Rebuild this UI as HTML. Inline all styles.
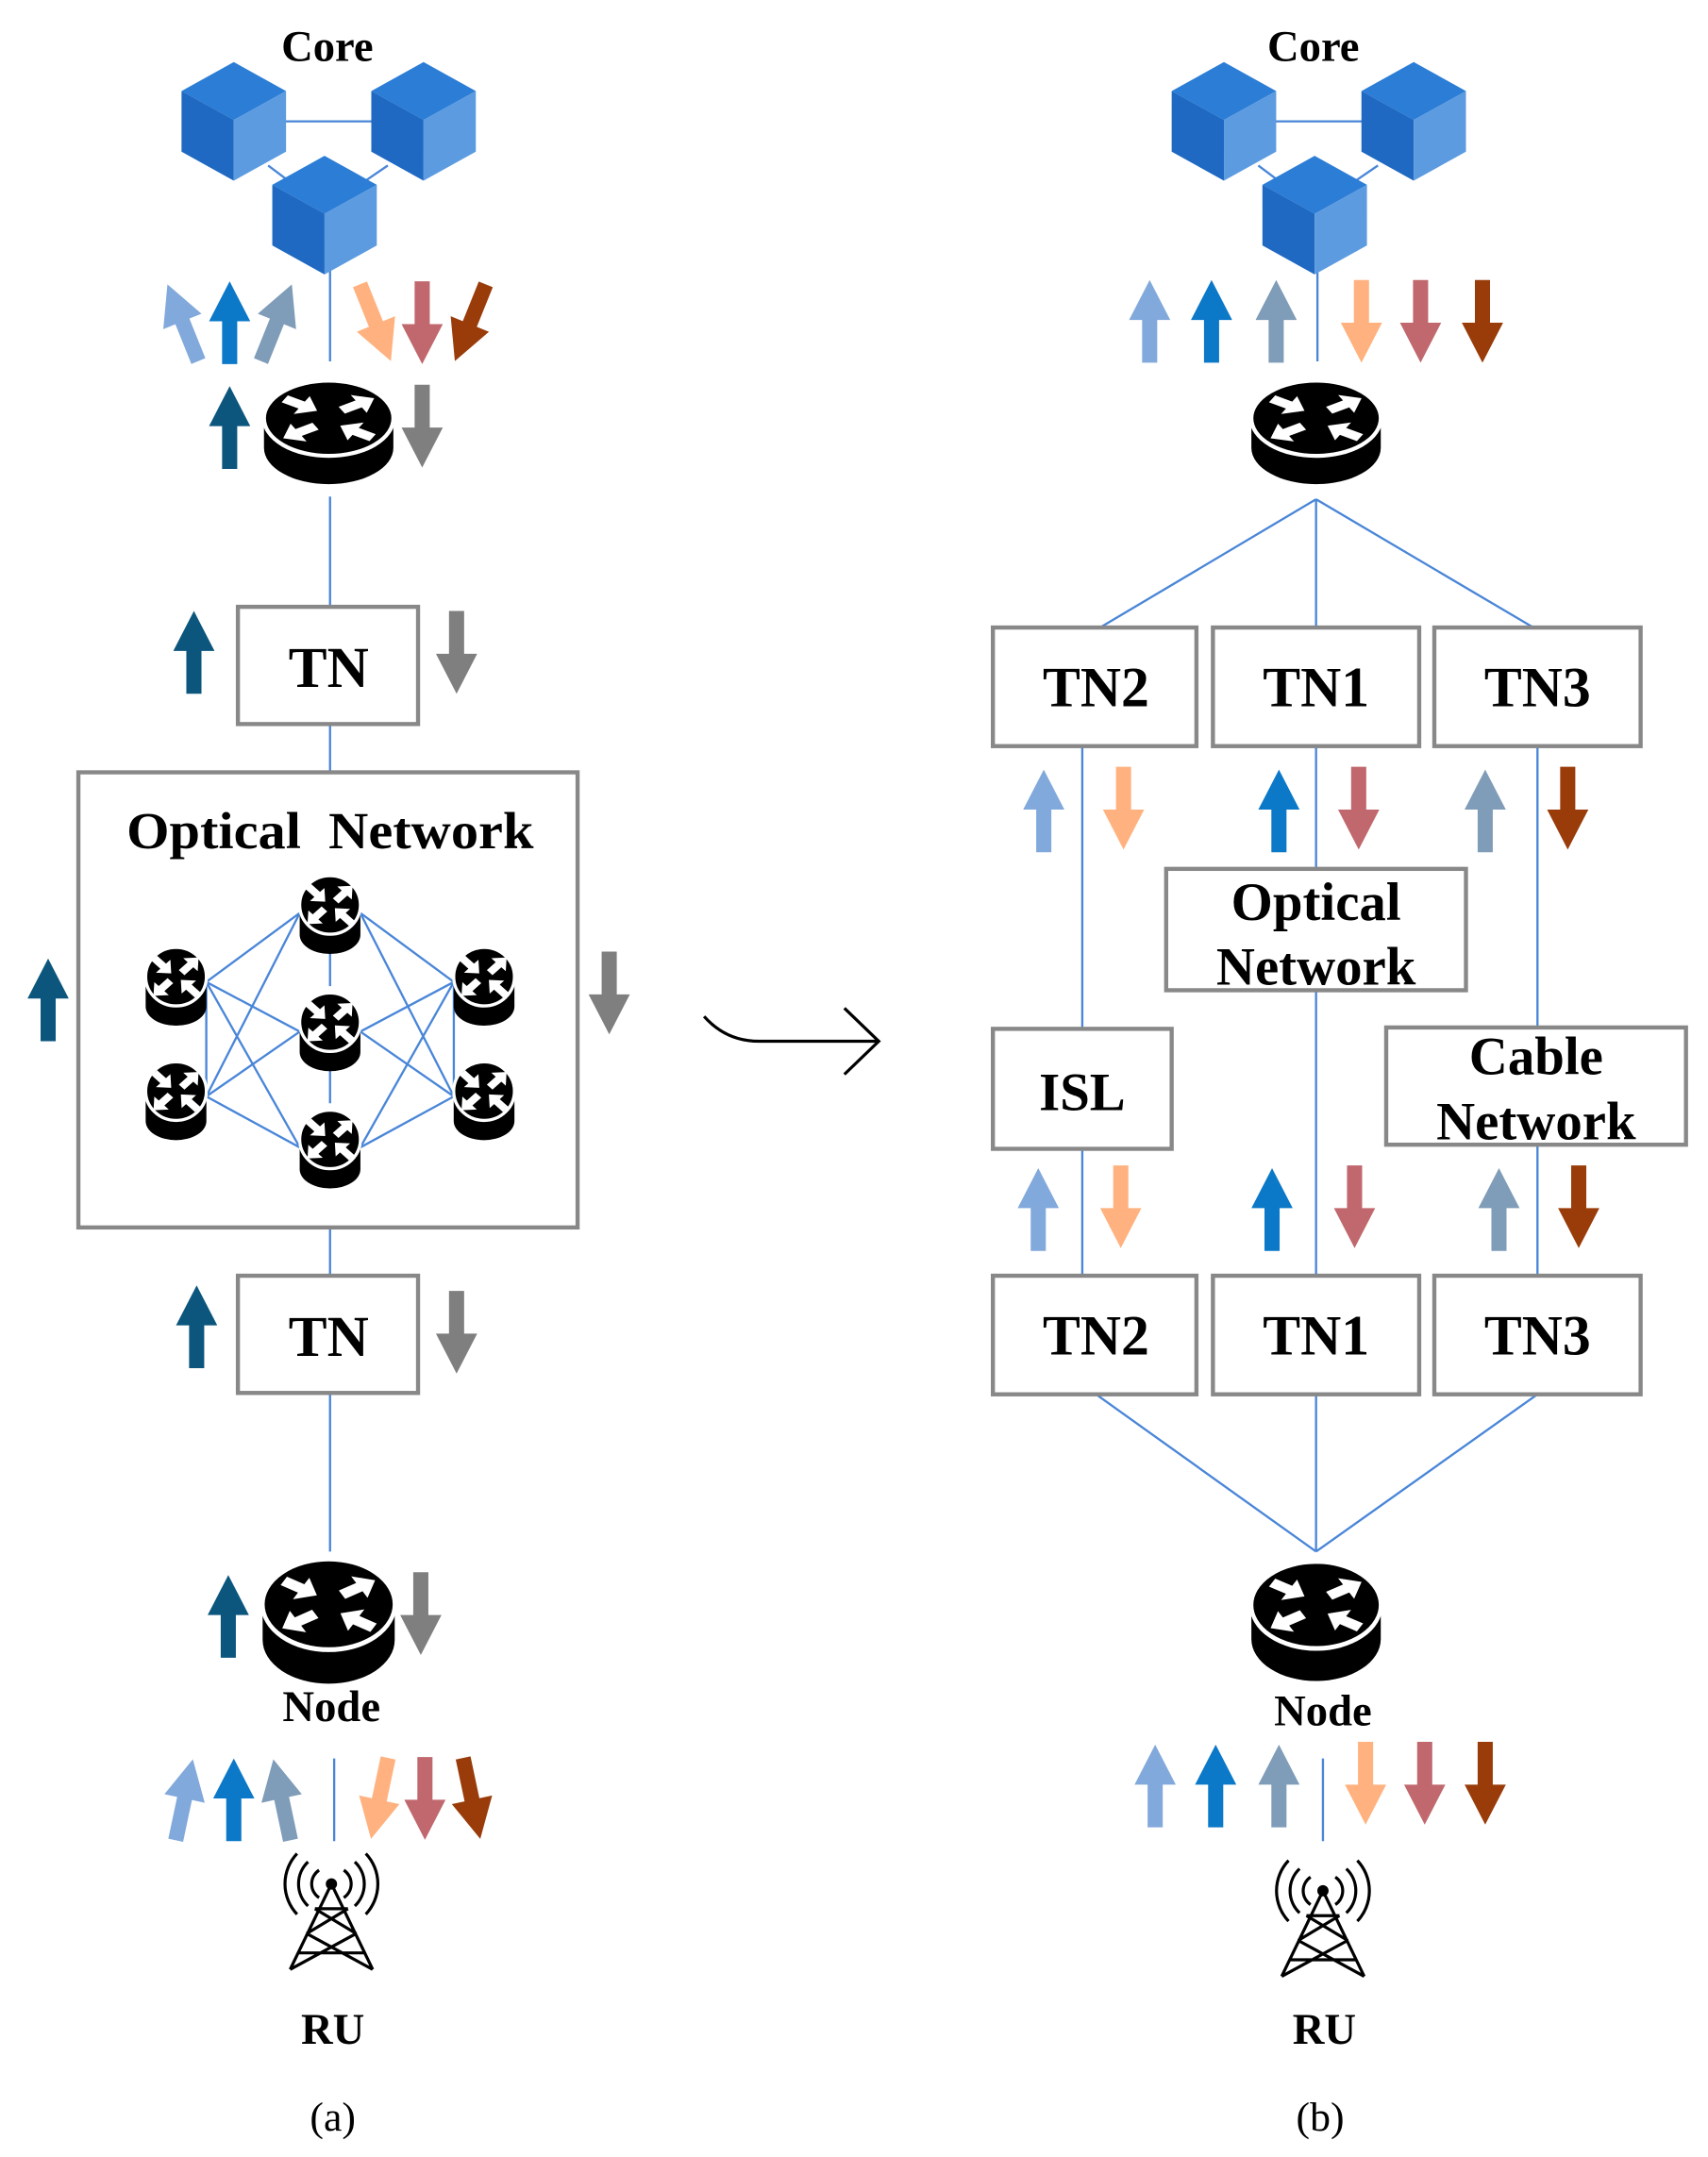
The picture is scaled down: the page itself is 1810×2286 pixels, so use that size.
<!DOCTYPE html>
<html><head><meta charset="utf-8"><style>html,body{margin:0;padding:0;background:#fff}svg{display:block}</style></head>
<body>
<svg width="1810" height="2286" viewBox="0 0 1242 1564" preserveAspectRatio="none" xmlns="http://www.w3.org/2000/svg" font-family="'Liberation Serif',serif">
<defs>
<path id="A" d="M0,-30 L15,-1 L5.5,-1 L5.5,30 L-5.5,30 L-5.5,-1 L-15,-1Z"/>
<path id="wa" d="M-10,-3.5 L1,-3.5 L1,-9 L11,0 L1,9 L1,3.5 L-10,3.5Z" fill="#fff"/>
<symbol id="R" viewBox="0 0 100 80" preserveAspectRatio="none">
<path d="M1,32 V52 A49,27 0 0 0 99,52 V32 Z" fill="#000"/>
<ellipse cx="50" cy="30" rx="49" ry="28" fill="#000" stroke="#fff" stroke-width="3"/>
<g transform="translate(50,30) scale(1.35,0.85)">
<use href="#wa" transform="translate(-16,-12) rotate(30)"/>
<use href="#wa" transform="translate(16,-12) rotate(-30)"/>
<use href="#wa" transform="translate(-16,12) rotate(150)"/>
<use href="#wa" transform="translate(16,12) rotate(210)"/>
</g>
</symbol>
<symbol id="S" viewBox="0 0 100 130" preserveAspectRatio="none">
<path d="M2,50 V95 A48,30 0 0 0 98,95 V50 Z" fill="#000"/>
<ellipse cx="50" cy="48" rx="48" ry="46" fill="#000" stroke="#fff" stroke-width="5"/>
<g transform="translate(50,48) scale(1.8,1.6)">
<use href="#wa" transform="translate(-12,-11) rotate(45)"/>
<use href="#wa" transform="translate(12,-11) rotate(-45)"/>
<use href="#wa" transform="translate(-12,11) rotate(135)"/>
<use href="#wa" transform="translate(12,11) rotate(225)"/>
</g>
</symbol>
<g id="cube">
<polygon points="0,-43 38,-22 0,-1 -38,-22" fill="#2b7dd6"/>
<polygon points="-38,-22 0,-1 0,43 -38,22" fill="#1f69c2"/>
<polygon points="0,-1 38,-22 38,22 0,43" fill="#5d9be0"/>
</g>
<g id="tower" fill="none" stroke="#000" stroke-width="2.2">
<path d="M0,-22 L-30,40 M0,-22 L30,40 M-30,40 L18,14 M30,40 L-18,14 M-18,14 L12,-4 M18,14 L-12,-4 M-12,-4 L12,-4 M-24,28 L24,28"/>
<circle cx="0" cy="-22" r="3" fill="#000"/>
<path d="M-9,-32 A12,12 0 0 0 -9,-12 M9,-32 A12,12 0 0 1 9,-12 M-17,-38 A22,22 0 0 0 -17,-6 M17,-38 A22,22 0 0 1 17,-6 M-25,-44 A32,32 0 0 0 -25,0 M25,-44 A32,32 0 0 1 25,0"/>
</g>
</defs>

<g font-weight="bold" text-anchor="middle" fill="#000">
<!-- ===== (a) ===== -->
<g stroke="#4a86d8" stroke-width="1.6" fill="none">
<line x1="205" y1="88" x2="272" y2="88"/>
<line x1="195" y1="120" x2="215" y2="135"/>
<line x1="282" y1="120" x2="260" y2="135"/>
<line x1="240" y1="195" x2="240" y2="262"/>
<line x1="240" y1="360" x2="240" y2="440"/>
<line x1="240" y1="525" x2="240" y2="560"/>
<line x1="240" y1="890" x2="240" y2="925"/>
<line x1="240" y1="1010" x2="240" y2="1125"/>
<line x1="243" y1="1275" x2="243" y2="1335"/>
<path d="M150,712 L218,662 M150,712 L218,748 M150,712 L218,832 M150,712 L150,795 M150,795 L218,662 M150,795 L218,748 M150,795 L218,832 M330,712 L262,662 M330,712 L262,748 M330,712 L262,832 M330,712 L330,795 M330,795 L262,662 M330,795 L262,832 M330,795 L262,748 M240,690 L240,715 M240,775 L240,800"/>
</g>
<use href="#cube" transform="translate(170,88)"/>
<use href="#cube" transform="translate(308,88)"/>
<use href="#cube" transform="translate(236,156)"/>
<text x="238" y="44" font-size="32">Core</text>

<use href="#R" x="191" y="274" width="96" height="78"/>
<use href="#R" x="190" y="1128" width="98" height="94"/>
<text x="241" y="1248" font-size="32">Node</text>

<rect x="173" y="440" width="131" height="85" fill="#fff" stroke="#888" stroke-width="3"/>
<text x="239" y="498" font-size="42">TN</text>
<rect x="57" y="560" width="363" height="330" fill="none" stroke="#888" stroke-width="3"/>
<text x="240" y="615" font-size="38" textLength="296" lengthAdjust="spacingAndGlyphs" xml:space="preserve">Optical  Network</text>
<rect x="173" y="925" width="131" height="85" fill="#fff" stroke="#888" stroke-width="3"/>
<text x="239" y="983" font-size="42">TN</text>

<use href="#S" x="105" y="686" width="46" height="60"/>
<use href="#S" x="217" y="634" width="46" height="60"/>
<use href="#S" x="217" y="719" width="46" height="60"/>
<use href="#S" x="329" y="686" width="46" height="60"/>
<use href="#S" x="105" y="769" width="46" height="60"/>
<use href="#S" x="217" y="804" width="46" height="60"/>
<use href="#S" x="329" y="769" width="46" height="60"/>

<use href="#tower" transform="translate(241,1388)"/>
<text x="242" y="1482" font-size="32">RU</text>
<text x="242" y="1545" font-size="30" font-weight="normal">(a)</text>

<use href="#A" transform="translate(133,234) rotate(-22)" fill="#82a9dc"/>
<use href="#A" transform="translate(167,234)" fill="#0b78c8"/>
<use href="#A" transform="translate(201,234) rotate(22)" fill="#7f9cb8"/>
<use href="#A" transform="translate(273,234) rotate(158)" fill="#ffb27f"/>
<use href="#A" transform="translate(307,234) rotate(180)" fill="#c0686d"/>
<use href="#A" transform="translate(342,234) rotate(202)" fill="#993c0a"/>
<use href="#A" transform="translate(167,310)" fill="#0c567e"/>
<use href="#A" transform="translate(307,309) rotate(180)" fill="#7f7f7f"/>
<use href="#A" transform="translate(141,473)" fill="#0c567e"/>
<use href="#A" transform="translate(332,473) rotate(180)" fill="#7f7f7f"/>
<use href="#A" transform="translate(35,725)" fill="#0c567e"/>
<use href="#A" transform="translate(443,720) rotate(180)" fill="#7f7f7f"/>
<use href="#A" transform="translate(143,962)" fill="#0c567e"/>
<use href="#A" transform="translate(332,966) rotate(180)" fill="#7f7f7f"/>
<use href="#A" transform="translate(166,1172)" fill="#0c567e"/>
<use href="#A" transform="translate(306,1170) rotate(180)" fill="#7f7f7f"/>
<use href="#A" transform="translate(134,1305) rotate(12)" fill="#82a9dc"/>
<use href="#A" transform="translate(170,1305)" fill="#0b78c8"/>
<use href="#A" transform="translate(205,1305) rotate(-12)" fill="#7f9cb8"/>
<use href="#A" transform="translate(276,1304) rotate(192)" fill="#ffb27f"/>
<use href="#A" transform="translate(309,1304) rotate(180)" fill="#c0686d"/>
<use href="#A" transform="translate(343,1304) rotate(168)" fill="#993c0a"/>

<path d="M512,737 Q528,755 552,755 L639,755 M614,731 L639,755 L614,779" fill="none" stroke="#000" stroke-width="2.2"/>

<!-- ===== (b) ===== -->
<g stroke="#4a86d8" stroke-width="1.6" fill="none">
<line x1="925" y1="88" x2="992" y2="88"/>
<line x1="915" y1="120" x2="935" y2="135"/>
<line x1="1002" y1="120" x2="980" y2="135"/>
<line x1="958" y1="195" x2="958" y2="262"/>
<path d="M957,362 L800,455 M957,362 L957,455 M957,362 L1115,455"/>
<line x1="787" y1="541" x2="787" y2="746"/>
<line x1="957" y1="541" x2="957" y2="630"/>
<line x1="957" y1="718" x2="957" y2="925"/>
<line x1="1118" y1="541" x2="1118" y2="745"/>
<line x1="1118" y1="830" x2="1118" y2="925"/>
<line x1="787" y1="833" x2="787" y2="925"/>
<path d="M797,1011 L957,1125 M957,1011 L957,1125 M1118,1011 L957,1125"/>
<line x1="962" y1="1275" x2="962" y2="1335"/>
</g>
<use href="#cube" transform="translate(890,88)"/>
<use href="#cube" transform="translate(1028,88)"/>
<use href="#cube" transform="translate(956,156)"/>
<text x="955" y="44" font-size="32">Core</text>
<use href="#R" x="909" y="274" width="96" height="78"/>
<use href="#R" x="909" y="1130" width="96" height="90"/>
<text x="962" y="1251" font-size="32">Node</text>

<g fill="#fff" stroke="#888" stroke-width="3">
<rect x="722" y="455" width="148" height="86"/>
<rect x="882" y="455" width="150" height="86"/>
<rect x="1043" y="455" width="150" height="86"/>
<rect x="848" y="630" width="218" height="88"/>
<rect x="722" y="746" width="130" height="87"/>
<rect x="1008" y="745" width="218" height="85"/>
<rect x="722" y="925" width="148" height="86"/>
<rect x="882" y="925" width="150" height="86"/>
<rect x="1043" y="925" width="150" height="86"/>
</g>
<g font-size="41">
<text x="797" y="512">TN2</text>
<text x="957" y="512">TN1</text>
<text x="1118" y="512">TN3</text>
<text x="797" y="982">TN2</text>
<text x="957" y="982">TN1</text>
<text x="1118" y="982">TN3</text>
</g>
<g font-size="39">
<text x="957" y="667">Optical</text>
<text x="957" y="714">Network</text>
<text x="787" y="805">ISL</text>
<text x="1117" y="779">Cable</text>
<text x="1117" y="826">Network</text>
</g>
<use href="#tower" transform="translate(962,1393)"/>
<text x="963" y="1482" font-size="32">RU</text>
<text x="960" y="1545" font-size="30" font-weight="normal">(b)</text>

<use href="#A" transform="translate(836,233)" fill="#82a9dc"/>
<use href="#A" transform="translate(881,233)" fill="#0b78c8"/>
<use href="#A" transform="translate(928,233)" fill="#7f9cb8"/>
<use href="#A" transform="translate(990,233) rotate(180)" fill="#ffb27f"/>
<use href="#A" transform="translate(1033,233) rotate(180)" fill="#c0686d"/>
<use href="#A" transform="translate(1078,233) rotate(180)" fill="#993c0a"/>
<use href="#A" transform="translate(759,588)" fill="#82a9dc"/>
<use href="#A" transform="translate(817,586) rotate(180)" fill="#ffb27f"/>
<use href="#A" transform="translate(930,588)" fill="#0b78c8"/>
<use href="#A" transform="translate(988,586) rotate(180)" fill="#c0686d"/>
<use href="#A" transform="translate(1080,588)" fill="#7f9cb8"/>
<use href="#A" transform="translate(1140,586) rotate(180)" fill="#993c0a"/>
<use href="#A" transform="translate(755,877)" fill="#82a9dc"/>
<use href="#A" transform="translate(815,875) rotate(180)" fill="#ffb27f"/>
<use href="#A" transform="translate(925,877)" fill="#0b78c8"/>
<use href="#A" transform="translate(985,875) rotate(180)" fill="#c0686d"/>
<use href="#A" transform="translate(1090,877)" fill="#7f9cb8"/>
<use href="#A" transform="translate(1148,875) rotate(180)" fill="#993c0a"/>
<use href="#A" transform="translate(840,1295)" fill="#82a9dc"/>
<use href="#A" transform="translate(884,1295)" fill="#0b78c8"/>
<use href="#A" transform="translate(930,1295)" fill="#7f9cb8"/>
<use href="#A" transform="translate(993,1293) rotate(180)" fill="#ffb27f"/>
<use href="#A" transform="translate(1036,1293) rotate(180)" fill="#c0686d"/>
<use href="#A" transform="translate(1080,1293) rotate(180)" fill="#993c0a"/>
</g>
</svg>
</body></html>
